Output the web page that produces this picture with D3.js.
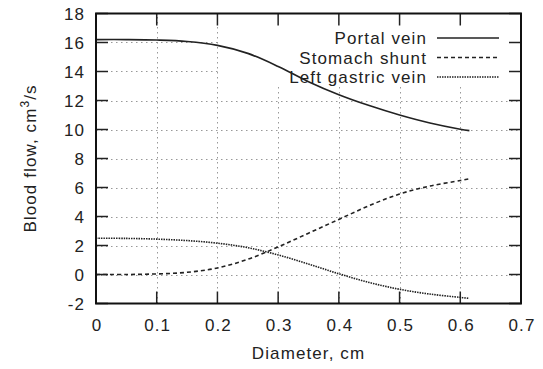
<!DOCTYPE html>
<html>
<head>
<meta charset="utf-8">
<script src="https://cdn.jsdelivr.net/npm/d3@7"></script>
<style>
  body { margin: 0; background: #fff; }
  text { font-family: "Liberation Sans", Arial, sans-serif; fill: #222; letter-spacing: 1.1px; }
</style>
</head>
<body>
<figure id="chart" style="margin:0"></figure>
<script>
// data
const diameter = [0, 0.05, 0.1, 0.15, 0.2, 0.25, 0.3, 0.35, 0.4, 0.45, 0.5, 0.55, 0.6, 0.615];
const portalVein = [16.2, 16.2, 16.17, 16.07, 15.8, 15.25, 14.35, 13.3, 12.4, 11.65, 11.0, 10.45, 10.02, 9.92];
const stomachShunt = [0, 0, 0.04, 0.15, 0.45, 1.05, 1.9, 2.85, 3.8, 4.75, 5.55, 6.1, 6.48, 6.6];
const leftGastric = [2.5, 2.49, 2.44, 2.34, 2.16, 1.85, 1.35, 0.72, 0.05, -0.55, -1.02, -1.35, -1.58, -1.65];
const xTicks = [0, 0.1, 0.2, 0.3, 0.4, 0.5, 0.6, 0.7];
const yTicks = [-2, 0, 2, 4, 6, 8, 10, 12, 14, 16, 18];
const seriesNames = ["Portal vein", "Stomach shunt", "Left gastric vein"];

const W = 543, H = 369;
const pLeft = 96, pRight = 521, pTop = 13.5, pBottom = 303.5;
const dashes = [null, "4,3", "1.5,1"];

const svg = d3.select("#chart").append("svg")
  .attr("width", W).attr("height", H);

const x = d3.scaleLinear().domain([0, 0.7]).range([pLeft, pRight]);
const y = d3.scaleLinear().domain([-2, 18]).range([pBottom, pTop]);

// grid
const grid = svg.append("g").attr("stroke", "#999").attr("stroke-width", 1)
  .attr("stroke-dasharray", "1.5,3.5");
grid.selectAll(".gx").data(xTicks.slice(1, -1)).enter().append("line")
  .attr("x1", d => Math.round(x(d)) + 0.5).attr("x2", d => Math.round(x(d)) + 0.5)
  .attr("y1", pBottom).attr("y2", pTop);
grid.selectAll(".gy").data(yTicks.slice(1, -1)).enter().append("line")
  .attr("y1", d => Math.round(y(d)) + 0.5).attr("y2", d => Math.round(y(d)) + 0.5)
  .attr("x1", pLeft).attr("x2", pRight);

// opaque legend box
svg.append("rect").attr("x", 219).attr("y", pTop).attr("width", pRight - 219).attr("height", 73)
  .attr("fill", "#fff");

// ticks on all four sides
const tk = svg.append("g").attr("stroke", "#222").attr("stroke-width", 1.5);
const tl = 12;
xTicks.forEach(d => {
  const px = x(d);
  tk.append("line").attr("x1", px).attr("x2", px).attr("y1", pBottom).attr("y2", pBottom - tl);
  tk.append("line").attr("x1", px).attr("x2", px).attr("y1", pTop).attr("y2", pTop + tl);
});
yTicks.forEach(d => {
  const py = y(d);
  tk.append("line").attr("y1", py).attr("y2", py).attr("x1", pLeft).attr("x2", pLeft + tl);
  tk.append("line").attr("y1", py).attr("y2", py).attr("x1", pRight).attr("x2", pRight - tl);
});

// tick labels
svg.selectAll(".xl").data(xTicks).enter().append("text")
  .attr("x", d => x(d) + 1).attr("y", 331).attr("text-anchor", "middle")
  .attr("font-size", 17).text(d => d3.format("~g")(d));
svg.selectAll(".yl").data(yTicks).enter().append("text")
  .attr("x", 85).attr("y", d => y(d) + 6).attr("text-anchor", "end")
  .attr("font-size", 17).text(d => d);

// curves
const line = d3.line().curve(d3.curveCatmullRom.alpha(0.5))
  .x(d => x(d[0])).y(d => y(d[1]));
[portalVein, stomachShunt, leftGastric].forEach((vals, i) => {
  svg.append("path")
    .datum(diameter.map((d, j) => [d, vals[j]]))
    .attr("d", line).attr("fill", "none")
    .attr("stroke", "#222").attr("stroke-width", 1.6)
    .attr("stroke-dasharray", dashes[i]);
});

// legend
seriesNames.forEach((name, i) => {
  const ly = 38 + i * 19.5;
  svg.append("text").attr("x", 427).attr("y", ly + 6).attr("text-anchor", "end")
    .attr("font-size", 17).text(name);
  svg.append("line").attr("x1", 437).attr("x2", 499).attr("y1", ly).attr("y2", ly)
    .attr("stroke", "#222").attr("stroke-width", 1.5).attr("stroke-dasharray", dashes[i]);
});

// frame
svg.append("rect").attr("x", pLeft).attr("y", pTop)
  .attr("width", pRight - pLeft).attr("height", pBottom - pTop)
  .attr("fill", "none").attr("stroke", "#111").attr("stroke-width", 2);

// axis titles
svg.append("text").attr("x", (pLeft + pRight) / 2).attr("y", 359)
  .attr("text-anchor", "middle").attr("font-size", 17).text("Diameter, cm");
const yt = svg.append("text")
  .attr("transform", `translate(36,${(pTop + pBottom) / 2}) rotate(-90)`)
  .attr("text-anchor", "middle").attr("font-size", 17);
yt.append("tspan").text("Blood flow, cm");
yt.append("tspan").attr("font-size", 12).attr("dy", -7).text("3");
yt.append("tspan").attr("dy", 7).text("/s");
</script>
</body>
</html>
